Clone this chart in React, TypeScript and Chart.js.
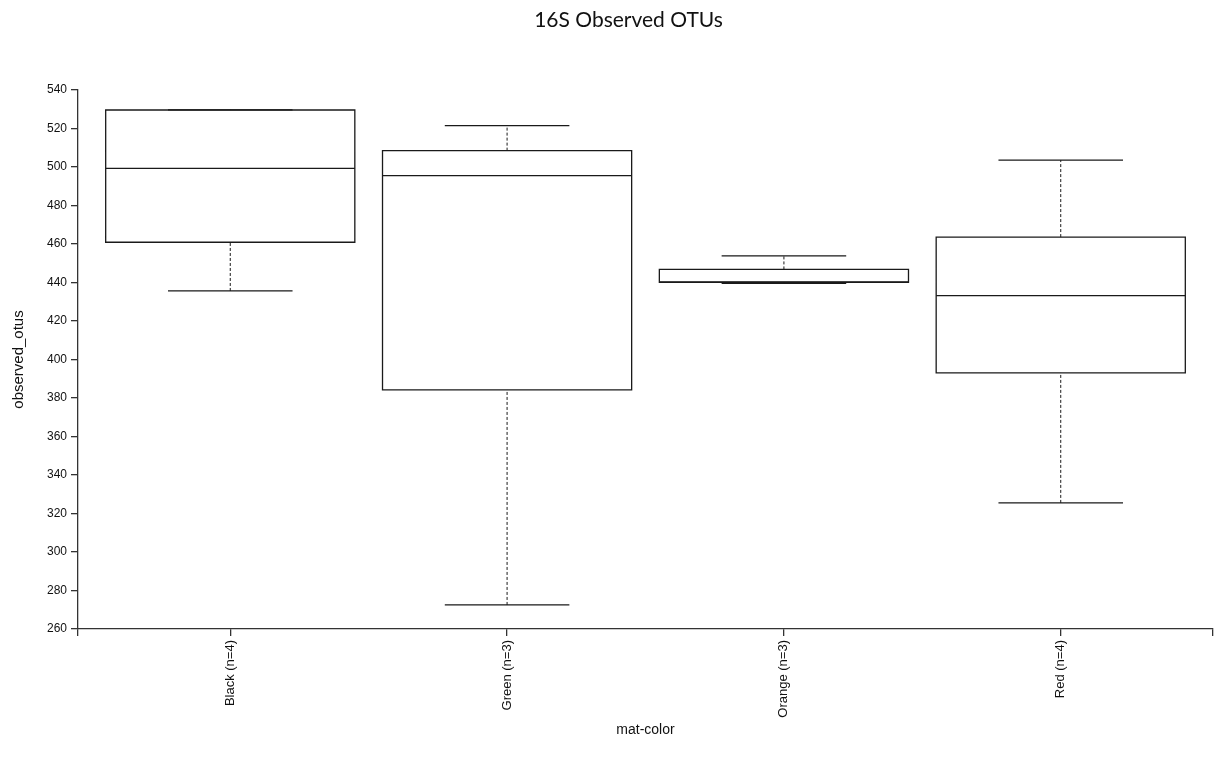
import React, { useEffect, useRef } from 'react';
import { Chart, registerables } from 'chart.js';

Chart.register(...registerables);

// ---- Data ----
const categories = ['Black (n=4)', 'Green (n=3)', 'Orange (n=3)', 'Red (n=4)'];
const whiskerLow = [435.6, 272.5, 439.5, 325.5];
const q1 = [460.9, 384.2, 440.1, 393.1];
const median = [499.3, 495.5, 440.3, 433.2];
const q3 = [529.6, 508.5, 446.8, 463.6];
const whiskerHigh = [529.7, 521.5, 453.8, 503.6];

const yMin = 260;
const yMax = 540;
const yStep = 20;

const BOX_HALF = 0.45;
const CAP_HALF = 0.225;

export default function App() {
  const ref = useRef<HTMLCanvasElement>(null);

  useEffect(() => {
    document.body.style.margin = '0';
    const gap = (c: number) => ({ x: c, y: null as any });
    const boxPts: any[] = [];
    const medPts: any[] = [];
    const capPts: any[] = [];
    const whiskPts: any[] = [];
    categories.forEach((_, i) => {
      const c = i + 1;
      boxPts.push(
        { x: c - BOX_HALF, y: q1[i] },
        { x: c + BOX_HALF, y: q1[i] },
        { x: c + BOX_HALF, y: q3[i] },
        { x: c - BOX_HALF, y: q3[i] },
        { x: c - BOX_HALF, y: q1[i] },
        gap(c)
      );
      medPts.push({ x: c - BOX_HALF, y: median[i] }, { x: c + BOX_HALF, y: median[i] }, gap(c));
      capPts.push(
        { x: c - CAP_HALF, y: whiskerLow[i] },
        { x: c + CAP_HALF, y: whiskerLow[i] },
        gap(c),
        { x: c - CAP_HALF, y: whiskerHigh[i] },
        { x: c + CAP_HALF, y: whiskerHigh[i] },
        gap(c)
      );
      whiskPts.push(
        { x: c, y: whiskerLow[i] },
        { x: c, y: q1[i] },
        gap(c),
        { x: c, y: q3[i] },
        { x: c, y: whiskerHigh[i] },
        gap(c)
      );
    });

    const common = {
      showLine: true,
      pointRadius: 0,
      pointHoverRadius: 0,
      borderColor: '#1a1a1a',
      backgroundColor: 'transparent',
      fill: false,
      spanGaps: false,
      tension: 0,
    };

    const chart = new Chart(ref.current!, {
      type: 'scatter',
      data: {
        datasets: [
          { ...common, label: 'whiskers', data: whiskPts, borderWidth: 1, borderDash: [3, 2] },
          { ...common, label: 'caps', data: capPts, borderWidth: 1.3 },
          { ...common, label: 'boxes', data: boxPts, borderWidth: 1.3, borderCapStyle: 'square', borderJoinStyle: 'miter' },
          { ...common, label: 'median', data: medPts, borderWidth: 1.3 },
        ] as any,
      },
      options: {
        animation: false,
        responsive: true,
        maintainAspectRatio: false,
        layout: { padding: { left: 44, right: 6, top: 0, bottom: 0 } },
        plugins: {
          legend: { display: false },
          tooltip: { enabled: false },
          title: {
            display: true,
            text: '16S Observed OTUs',
            color: '#111',
            font: { family: 'Lato', size: 21, weight: 'normal' as any },
            padding: { top: 8, bottom: 56.8 },
          },
        },
        scales: {
          x: {
            type: 'linear',
            min: 0.45,
            max: 4.55,
            afterFit: (s: any) => {
              s.height = 141;
              s.paddingLeft = 0;
              s.paddingRight = 0;
            },
            border: { display: true, color: '#333', width: 1.3 },
            grid: { display: true, drawOnChartArea: false, drawTicks: true, tickLength: 7, color: '#333', lineWidth: 1.3 },
            ticks: {
              stepSize: 1,
              autoSkip: false,
              minRotation: 90,
              maxRotation: 90,
              padding: 4,
              color: '#111',
              font: { family: 'Liberation Sans', size: 13 },
              callback: (v: any) => (Number.isInteger(v) && v >= 1 && v <= categories.length ? categories[v - 1] : ''),
            },
            title: {
              display: true,
              text: 'mat-color',
              color: '#111',
              font: { family: 'Liberation Sans', size: 14 },
              padding: { top: 0, bottom: 31.6 },
            },
          },
          y: {
            type: 'linear',
            min: yMin,
            max: yMax,
            afterFit: (s: any) => {
              s.width = 34;
            },
            border: { display: true, color: '#333', width: 1.3 },
            grid: { display: true, drawOnChartArea: false, drawTicks: true, tickLength: 7, color: '#333', lineWidth: 1.3 },
            ticks: {
              stepSize: yStep,
              padding: 4,
              color: '#111',
              font: { family: 'Liberation Sans', size: 12 },
            },
            title: {
              display: true,
              text: 'observed_otus',
              color: '#111',
              font: { family: 'Liberation Sans', size: 15 },
              padding: { top: -34, bottom: 0 },
            },
          },
        },
      } as any,
    });
    return () => chart.destroy();
  }, []);

  return (
    <div style={{ width: 1219, height: 770, position: 'relative', background: '#fff' }}>
      <canvas ref={ref} />
    </div>
  );
}
